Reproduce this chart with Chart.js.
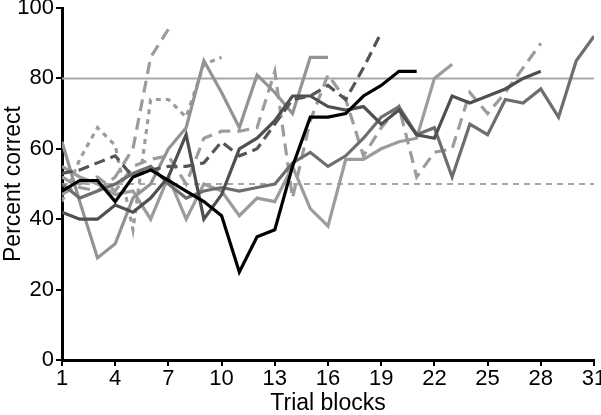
<!DOCTYPE html>
<html>
<head>
<meta charset="utf-8">
<script src="https://cdn.jsdelivr.net/npm/chart.js@4"></script>
<style>
  html, body { margin: 0; padding: 0; background: #fff; }
  #wrap { width: 601px; height: 415px; }
</style>
</head>
<body>
<div id="wrap"><canvas id="chart" width="601" height="415"></canvas></div>
<script>
// tick labels
const xTicks = [1, 4, 7, 10, 13, 16, 19, 22, 25, 28, 31];
const yTicks = [0, 20, 40, 60, 80, 100];

// reference levels
const criterion = 80;
const chance = 50;

// percent correct per trial block, one array per subject (block 1 first)
const subjBlack = [48, 51, 51, 45, 52, 54, 51, 48, 45, 41, 25, 35, 37, 55, 69, 69, 70, 75, 78, 82, 82];
const subjDarkDash = [53, 54, 56, 58, 52, 54, 55, 55, 56, 62, 58, 60, 67, 74, 75, 78, 74, 83, 93];
const subjDark = [42, 40, 40, 44, 42, 46, 52, 64, 40, 47, 60, 63, 68, 75, 75, 72, 71, 72, 67, 71, 64, 63, 75, 73, 75, 77, 80, 82];
const subjMid = [50, 46, 48, 50, 53, 55, 50, 46, 48, 49, 48, 49, 50, 56, 59, 55, 58, 63, 69, 72, 64, 66, 52, 67, 64, 74, 73, 77, 69, 85, 92];
const subjLightA = [62, 45, 29, 33, 46, 50, 60, 66, 85, 76, 66, 81, 76, 70, 86, 86];
const subjLightDashA = [52, 49, 48, 52, 60, 86, 94];
const subjShortDash = [45, 57, 66, 61, 37, 74, 74, 69, 84, 86];
const subjLightDashB = [47, 50, 52, 48, 55, 57, 58, 50, 63, 65, 65, 66, 82, 46, 68, 81, 74, 58, 66, 72, 52, 59, 60, 76, 70, 76, 83, 90];
const subjLightB = [55, 52, 50, 47, 48, 40, 52, 40, 50, 48, 41, 46, 45, 55, 43, 38, 57, 57, 60, 62, 63, 80, 84];

const FONT = '"Liberation Sans", Arial, sans-serif';

function toPoints(values) {
  return values.map((v, i) => ({ x: i + 1, y: v }));
}

function series(values, color, dash, width, order) {
  return {
    data: toPoints(values),
    borderColor: color,
    borderWidth: width || 3,
    borderDash: dash || [],
    pointRadius: 0,
    tension: 0,
    fill: false,
    order: order
  };
}

function refLine(level, dash) {
  return {
    data: [{ x: 1, y: level }, { x: 31, y: level }],
    borderColor: '#a8a8a8',
    borderWidth: 2,
    borderDash: dash,
    pointRadius: 0,
    fill: false,
    order: 20
  };
}

const datasets = [
  refLine(criterion, []),
  refLine(chance, [6, 5]),
  series(subjLightB, '#9c9c9c', [], 3.2, 10),
  series(subjLightDashB, '#9c9c9c', [12, 7], 3.2, 9),
  series(subjShortDash, '#9c9c9c', [5, 5], 3.2, 8),
  series(subjLightDashA, '#9c9c9c', [12, 7], 3.2, 8),
  series(subjLightA, '#939393', [], 3.2, 7),
  series(subjMid, '#6e6e6e', [], 3.2, 5),
  series(subjDark, '#4f4f4f', [], 3.2, 4),
  series(subjDarkDash, '#555555', [11, 6], 3.2, 3),
  series(subjBlack, '#000000', [], 3.2, 1)
];

const ctx = document.getElementById('chart');

new Chart(ctx, {
  type: 'line',
  data: { datasets: datasets },
  options: {
    responsive: false,
    animation: false,
    layout: { padding: { top: 8, right: 7, left: 0, bottom: 0 } },
    plugins: {
      legend: { display: false },
      tooltip: { enabled: false }
    },
    scales: {
      x: {
        type: 'linear',
        min: 1,
        max: 31,
        afterBuildTicks: (scale) => { scale.ticks = xTicks.map(v => ({ value: v })); },
        afterFit: (scale) => {
          scale.height = 55;
          scale.paddingLeft = 0;
          scale.paddingRight = 0;
        },
        grid: { display: true, drawOnChartArea: false, drawTicks: true, tickLength: 6, color: '#000', lineWidth: 2 },
        border: { display: true, color: '#000', width: 3 },
        ticks: { color: '#000', font: { family: FONT, size: 22, lineHeight: 1 }, padding: 2, maxRotation: 0, autoSkip: false },
        title: { display: true, text: 'Trial blocks', color: '#000', font: { family: FONT, size: 23, lineHeight: 1 }, padding: { top: 0, bottom: 0 } }
      },
      y: {
        min: 0,
        max: 100,
        afterBuildTicks: (scale) => { scale.ticks = yTicks.map(v => ({ value: v })); },
        afterFit: (scale) => {
          scale.width = 62;
          scale.paddingTop = 0;
          scale.paddingBottom = 0;
        },
        grid: { display: true, drawOnChartArea: false, drawTicks: true, tickLength: 6, color: '#000', lineWidth: 2 },
        border: { display: true, color: '#000', width: 3 },
        ticks: { color: '#000', font: { family: FONT, size: 22 }, padding: 2 },
        title: { display: true, text: 'Percent correct', color: '#000', font: { family: FONT, size: 23, lineHeight: 1.2 }, padding: { top: 0, bottom: 0 } }
      }
    }
  }
});
</script>
</body>
</html>
